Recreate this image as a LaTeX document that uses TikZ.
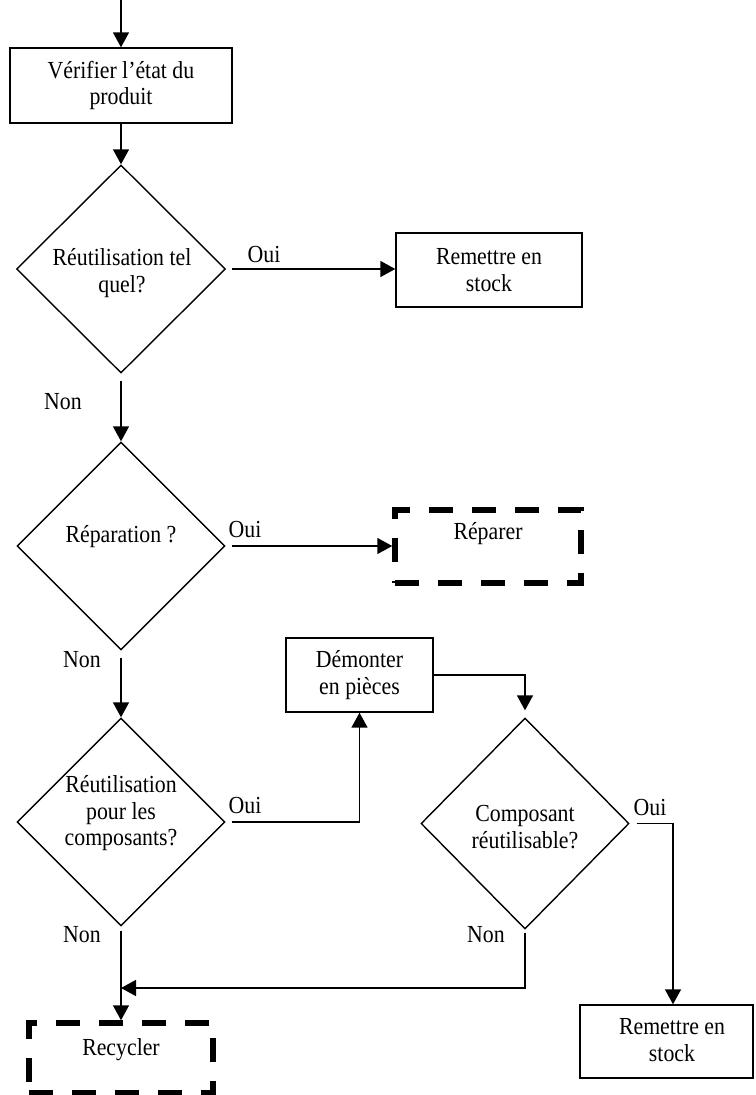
\documentclass[tikz,border=0pt]{standalone}
\usepackage{fontspec}
\setmainfont{Liberation Serif}[FakeStretch=0.89]
\usetikzlibrary{shapes.geometric,arrows.meta}
\begin{document}
\begin{tikzpicture}[x=1pt,y=-1pt,
  every node/.style={font=\fontsize{24.5}{26.5}\selectfont},
  box/.style={draw,line width=1.4pt,rectangle,inner sep=0pt,align=center},
  dbox/.style={draw,line width=5.5pt,rectangle,inner sep=0pt,dash pattern=on 24pt off 19pt},
  decision/.style={draw,line width=1.4pt,diamond,inner sep=0pt},
  txt/.style={align=center,inner sep=0pt},
  lab/.style={inner sep=0pt},
  flow/.style={line width=1.5pt,-{Triangle[length=15pt,width=16pt]}}]
\useasboundingbox (0,0) rectangle (755,1095);

% process boxes
\node[box,minimum width=222pt,minimum height=75pt] (check) at (121,85.5) {Vérifier l’état du\\produit};
\node[box,minimum width=186pt,minimum height=74pt] (stockA) at (489,270) {Remettre en\\stock};
\node[dbox,minimum width=186pt,minimum height=73pt] (repair) at (488,546.5) {};
\node[txt] (repairt) at (488,534) {Réparer};
\node[box,minimum width=147pt,minimum height=74pt] (dismantle) at (359.5,675) {Démonter\\en pièces};
\node[dbox,minimum width=184pt,minimum height=70pt] (recycle) at (121,1058) {};
\node[txt] (recyclet) at (121,1050) {Recycler};
\node[box,minimum width=173pt,minimum height=73pt] (stockB) at (666.5,1041.5) {};
\node[txt] (stockBt) at (672,1040) {Remettre en\\stock};

% decisions
\node[decision,minimum width=209pt,minimum height=208pt] (d1) at (121,269) {};
\node[txt] (d1t) at (122,273) {Réutilisation tel\\quel?};
\node[decision,minimum width=208pt,minimum height=208pt] (d2) at (121,546) {};
\node[txt] (d2t) at (121,537) {Réparation ?};
\node[decision,minimum width=208pt,minimum height=208pt] (d3) at (121,822) {};
\node[txt] (d3t) at (121,813.5) {Réutilisation\\pour les\\composants?};
\node[decision,minimum width=208pt,minimum height=211pt] (d4) at (525,823.5) {};
\node[txt] (d4t) at (525,827) {Composant\\réutilisable?};

% branch labels
\node[lab] (oui1) at (264,255) {Oui};
\node[lab] (non1) at (63,402) {Non};
\node[lab] (oui2) at (245,530) {Oui};
\node[lab] (non2) at (82,660) {Non};
\node[lab] (oui3) at (245,805) {Oui};
\node[lab] (oui4) at (650,807) {Oui};
\node[lab] (non3) at (82,935) {Non};
\node[lab] (non4) at (486,935) {Non};

% connectors
\coordinate (start) at (121,0);
\coordinate (merge) at (121,988);
\draw[flow] (start) -- (check);
\draw[flow] (check) -- (d1);
\draw[flow,shorten <=6pt] (d1.east) -- (d1.east -| stockA.west);
\draw[flow,shorten <=7pt] (d1.south) -- (d2.north);
\draw[flow,shorten <=6pt] (d2.east) -- (d2.east -| repair.west);
\draw[flow,shorten <=7pt] (d2.south) -- (d3.north);
\draw[flow,shorten <=6pt] (d3.east) -| (dismantle.south);
\draw[flow,shorten >=7pt] (dismantle.east) -| (d4.north);
\draw[flow,shorten <=7pt] (d4.east) -| ([xshift=6.5pt]stockB.north);
\draw[flow,shorten <=3pt] (d4.south) |- (merge);
\draw[flow,shorten <=4pt] (d3.south) -- (recycle.north);
\end{tikzpicture}
\end{document}
